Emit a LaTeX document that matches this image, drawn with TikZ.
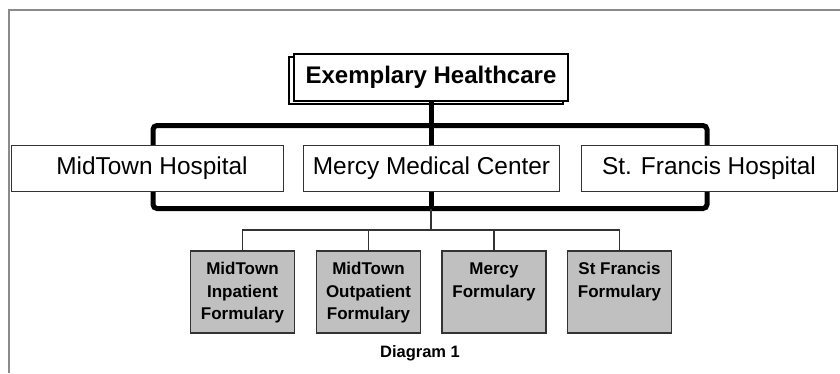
\documentclass[tikz,border=0pt]{standalone}
\usepackage{fontspec}
\setmainfont{Liberation Sans}
\usetikzlibrary{shadows}
\definecolor{framegray}{HTML}{8A8A8A}
\definecolor{boxline}{HTML}{333333}
\definecolor{formfill}{HTML}{C0C0C0}
\begin{document}
\begin{tikzpicture}[x=1pt,y=-1pt,
  frameline/.style={draw=framegray,line width=1.8pt},
  topbox/.style={draw=black,fill=white,line width=1.3pt,minimum width=274pt,minimum height=47pt,inner sep=0pt,
    font=\bfseries\fontsize{24}{28}\selectfont,
    copy shadow={shadow xshift=-5pt,shadow yshift=-2.5pt,draw=black,fill=white,line width=2pt}},
  midbox/.style={draw=boxline,fill=white,line width=1pt,minimum width=256pt,minimum height=46pt,inner sep=0pt,
    font=\fontsize{24.4}{28}\selectfont},
  formbox/.style={draw=boxline,fill=formfill,line width=1.2pt,minimum width=104pt,minimum height=82pt,inner sep=0pt,
    font=\bfseries\fontsize{17}{22.6}\selectfont},
  thickline/.style={draw=black,line width=5pt},
  thinline/.style={draw=boxline,line width=1.2pt},
  captext/.style={font=\bfseries\fontsize{16.5}{19}\selectfont}
]
\useasboundingbox (0,0) rectangle (840,373);
% frame
\coordinate (frBL) at (9.3,373);
\coordinate (frTL) at (9.3,10.3);
\coordinate (frTR) at (840,10.3);
\draw[frameline] (frBL) -- (frTL) -- (frTR);
% thick bar behind hospital boxes
\coordinate (barTL) at (153,125.5);
\coordinate (barBR) at (707,208.5);
\draw[thickline,rounded corners=4pt] (barTL) rectangle (barBR);
% nodes
\node[topbox] (top) at (431,77.5) {Exemplary Healthcare};
\node[midbox,minimum width=272pt] (mid) at (147,168) {\hspace{10pt}MidTown Hospital};
\node[midbox] (mercy) at (431.5,168) {Mercy Medical Center};
\node[midbox] (stf) at (709,168) {St. Francis Hospital};
\node[formbox] (f1) at (242.5,292) {\parbox[t][82pt][t]{104pt}{\centering\rule{0pt}{23.5pt}MidTown\\Inpatient\\Formulary}};
\node[formbox] (f2) at (368.5,292) {\parbox[t][82pt][t]{104pt}{\centering\rule{0pt}{23.5pt}MidTown\\Outpatient\\Formulary}};
\node[formbox] (f3) at (494,292) {\parbox[t][82pt][t]{104pt}{\centering\rule{0pt}{23.5pt}Mercy\\Formulary}};
\node[formbox] (f4) at (619.5,292) {\parbox[t][82pt][t]{104pt}{\centering\rule{0pt}{23.5pt}St Francis\\Formulary}};
\node[captext] (cap) at (420,353) {Diagram 1};
% thick connectors
\draw[thickline] (top.south) -- (top.south |- barTL);
\draw[thickline] (top.south |- barTL) -- (top.south |- mercy.north);
\draw[thickline] (top.south |- mercy.south) -- (top.south |- barBR);
% thin connectors
\coordinate (split) at (431,208.5);
\coordinate (hub) at (431,230);
\draw[thinline] (split) -- (hub);
\draw[thinline] (hub) -| (f1.north);
\draw[thinline] (hub) -| (f2.north);
\draw[thinline] (hub) -| (f3.north);
\draw[thinline] (hub) -| (f4.north);
\end{tikzpicture}
\end{document}
